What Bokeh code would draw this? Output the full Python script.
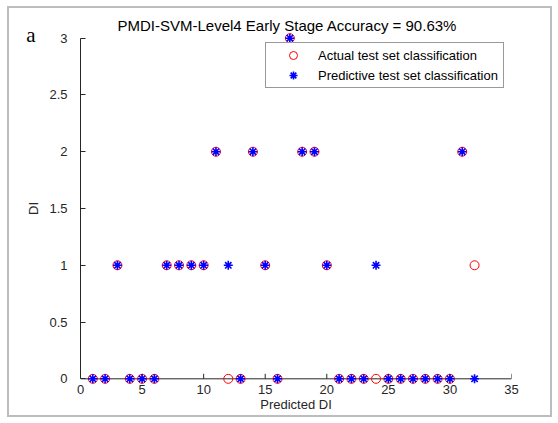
import math
from bokeh.plotting import figure
from bokeh.models import (Range1d, FixedTicker, Legend, LegendItem, LinearAxis,
                          ColumnDataSource, Span)
from bokeh.embed import file_html
from bokeh.resources import INLINE

# --- data ---
sample_index = list(range(1, 33))
actual_class = [0, 0, 1, 0, 0, 0, 1, 1, 1, 1, 2, 0, 0, 2, 1, 0,
                3, 2, 2, 1, 0, 0, 0, 0, 0, 0, 0, 0, 0, 0, 2, 1]
predicted_class = [0, 0, 1, 0, 0, 0, 1, 1, 1, 1, 2, 1, 0, 2, 1, 0,
                   3, 2, 2, 1, 0, 0, 0, 1, 0, 0, 0, 0, 0, 0, 2, 0]
x_ticks = [0, 5, 10, 15, 20, 25, 30, 35]
y_ticks = [0, 0.5, 1, 1.5, 2, 2.5, 3]
title_text = "PMDI-SVM-Level4 Early Stage Accuracy = 90.63%"
panel_letter = "a"

FONT = "Liberation Sans"
AXC = "#262626"
W, H = 545, 411

p = figure(width=W, height=H, output_backend="svg", toolbar_location=None,
           x_range=Range1d(0, 35), y_range=Range1d(-0.05, 3.05),
           min_border_left=71, min_border_right=43, min_border_top=24, min_border_bottom=35)
# grey window frame of the original figure
p.styles = {"margin-left": "7px", "margin-top": "6px", "border": "2px solid #bdbdbd"}

p.title.text = title_text
p.title.align = "left"
p.title.offset = 37
p.title.text_font = FONT
p.title.text_font_size = "15px"
p.title.text_font_style = "normal"
p.title.text_color = "#000000"
p.title.standoff = -3

p.xgrid.visible = False
p.ygrid.visible = False
p.outline_line_color = None
p.background_fill_color = "white"
p.border_fill_color = "white"

for ax in (p.xaxis[0], p.yaxis[0]):
    ax.axis_line_color = AXC
    ax.major_tick_line_color = AXC
    ax.major_tick_in = 5
    ax.major_tick_out = 0
    ax.minor_tick_line_color = None
    ax.major_label_text_font = FONT
    ax.major_label_text_font_size = "13px"
    ax.major_label_text_color = AXC
    ax.axis_label_text_font = FONT
    ax.axis_label_text_font_size = "13px"
    ax.axis_label_text_font_style = "normal"
    ax.axis_label_text_color = AXC

p.xaxis.ticker = FixedTicker(ticks=x_ticks)
p.yaxis.ticker = FixedTicker(ticks=y_ticks)
p.yaxis.bounds = (0, 3)
p.xaxis.bounds = (0, 35)
# x-axis line and ticks are drawn at y = 0 (see below); the axis itself only carries labels
p.xaxis.axis_line_color = None
p.xaxis.major_tick_line_color = None
p.yaxis.major_label_overrides = {0: "0", 0.5: "0.5", 1: "1", 1.5: "1.5", 2: "2", 2.5: "2.5", 3: "3"}
p.xaxis.axis_label = "Predicted DI"
p.yaxis.axis_label = "DI"
p.xaxis.major_label_standoff = 0
p.xaxis.axis_label_standoff = 0
p.yaxis.major_label_standoff = 13
p.yaxis.axis_label_standoff = 5

# panel letter "a", carried as the only tick label of an extra (invisible) left axis
ax2 = LinearAxis(ticker=FixedTicker(ticks=[3.03]),
                 major_label_overrides={3.03: panel_letter},
                 axis_line_color=None, major_tick_line_color=None, minor_tick_line_color=None,
                 major_tick_out=0, major_tick_in=0,
                 major_label_text_font="Liberation Serif", major_label_text_font_size="21px",
                 major_label_text_color="#000000", major_label_standoff=-12)
p.add_layout(ax2, "left")

# x axis line at DI = 0 with inward ticks
p.add_layout(Span(location=0, dimension="width", line_color=AXC, line_width=1, level="underlay"))
p.ray(x=x_ticks, y=[0] * len(x_ticks), length=5, length_units="screen",
      angle=math.pi / 2, line_color=AXC, line_width=1)

src_a = ColumnDataSource(dict(x=sample_index, y=actual_class))
src_p = ColumnDataSource(dict(x=sample_index, y=predicted_class))

r_act = p.scatter("x", "y", source=src_a, marker="circle", size=9,
                  fill_color=None, line_color="#ff0000", line_width=1)
r_pred = p.scatter("x", "y", source=src_p, marker="asterisk", size=9,
                   line_color="#0000ff", line_width=1.6)

legend = Legend(items=[LegendItem(label="Actual test set classification", renderers=[r_act]),
                       LegendItem(label="Predictive test set classification", renderers=[r_pred])],
                location=(185, 296))
legend.margin = 0
legend.padding = 2
legend.spacing = 0
legend.glyph_width = 50
legend.glyph_height = 20
legend.label_height = 20
legend.label_standoff = 0
legend.label_width = 183
legend.label_text_font = FONT
legend.label_text_font_size = "13px"
legend.label_text_color = "#000000"
legend.border_line_color = "#333333"
legend.border_line_width = 1
legend.background_fill_color = "white"
legend.background_fill_alpha = 1
p.add_layout(legend, "center")

open("out.html", "w").write(file_html(p, INLINE))
